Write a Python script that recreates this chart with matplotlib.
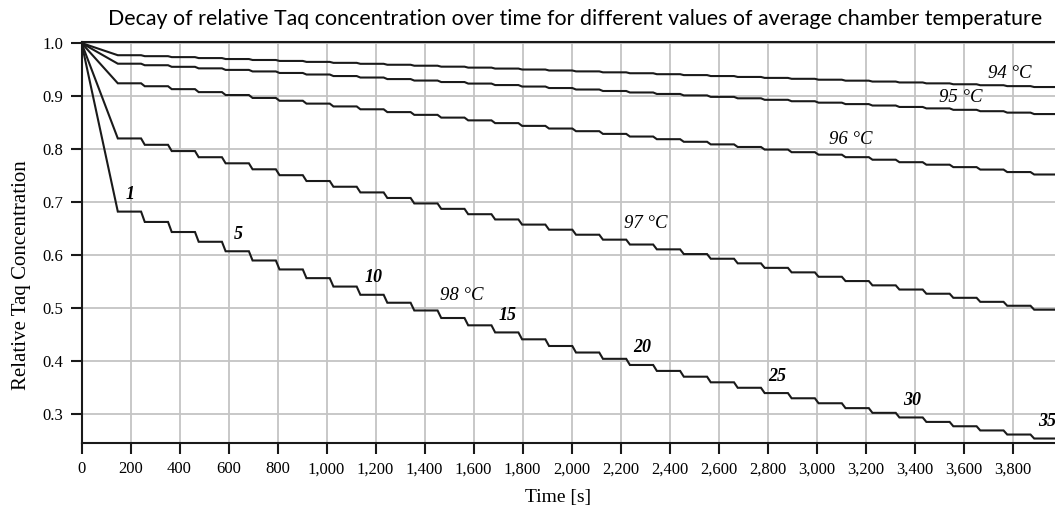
import matplotlib
matplotlib.use("Agg")
import matplotlib.pyplot as plt
from matplotlib.ticker import MultipleLocator, StrMethodFormatter

# relative Taq concentration at the end of each cycle (plateau values), cycles 1..35
temps = ["94 °C", "95 °C", "96 °C", "97 °C", "98 °C"]
conc_94 = [0.9770, 0.9752, 0.9734, 0.9716, 0.9698, 0.9680, 0.9662, 0.9644, 0.9626, 0.9608,
           0.9590, 0.9572, 0.9554, 0.9536, 0.9518, 0.9500, 0.9482, 0.9465, 0.9447, 0.9430,
           0.9412, 0.9395, 0.9377, 0.9360, 0.9342, 0.9325, 0.9308, 0.9290, 0.9273, 0.9256,
           0.9239, 0.9222, 0.9204, 0.9187, 0.9170]
conc_95 = [0.9610, 0.9581, 0.9551, 0.9522, 0.9493, 0.9464, 0.9435, 0.9406, 0.9377, 0.9349,
           0.9320, 0.9292, 0.9264, 0.9235, 0.9207, 0.9179, 0.9151, 0.9123, 0.9095, 0.9067,
           0.9039, 0.9012, 0.8984, 0.8957, 0.8929, 0.8902, 0.8875, 0.8848, 0.8821, 0.8794,
           0.8767, 0.8740, 0.8714, 0.8687, 0.8660]
conc_96 = [0.9240, 0.9185, 0.9130, 0.9074, 0.9019, 0.8964, 0.8911, 0.8857, 0.8804, 0.8750,
           0.8697, 0.8645, 0.8593, 0.8541, 0.8489, 0.8437, 0.8387, 0.8337, 0.8286, 0.8236,
           0.8186, 0.8137, 0.8088, 0.8039, 0.7990, 0.7941, 0.7894, 0.7847, 0.7799, 0.7752,
           0.7705, 0.7659, 0.7613, 0.7566, 0.7520]
conc_97 = [0.8200, 0.8080, 0.7962, 0.7846, 0.7731, 0.7618, 0.7507, 0.7397, 0.7289, 0.7182,
           0.7077, 0.6974, 0.6872, 0.6771, 0.6672, 0.6575, 0.6479, 0.6384, 0.6291, 0.6199,
           0.6108, 0.6019, 0.5931, 0.5844, 0.5759, 0.5674, 0.5591, 0.5510, 0.5429, 0.5350,
           0.5271, 0.5194, 0.5118, 0.5044, 0.4970]
conc_98 = [0.6820, 0.6625, 0.6435, 0.6251, 0.6072, 0.5898, 0.5729, 0.5565, 0.5406, 0.5251,
           0.5101, 0.4955, 0.4813, 0.4675, 0.4541, 0.4411, 0.4285, 0.4162, 0.4043, 0.3927,
           0.3815, 0.3706, 0.3600, 0.3497, 0.3397, 0.3299, 0.3205, 0.3113, 0.3024, 0.2937,
           0.2853, 0.2771, 0.2692, 0.2615, 0.2540]
series = [conc_94, conc_95, conc_96, conc_97, conc_98]

# timing of the protocol [s]
init_time = 148     # initial denaturation
cycle_time = 110    # one PCR cycle
hold_time = 95      # flat part of each cycle

# cycle numbers written on the 98 °C curve
cycle_marks = [1, 5, 10, 15, 20, 25, 30, 35]
# where the temperature labels sit (cycle, shift in s, pixel offset above curve)
temp_label_cycle = [34, 32, 28, 20, 13]
temp_label_dx = [0, 20, 10, 55, 74]
temp_label_dy = [13, 12, 18, 21, 23]


def step_curve(vals):
    t = [0.0]
    c = [1.0]
    for k, v in enumerate(vals):
        s = init_time + k * cycle_time
        t += [s, s + hold_time]
        c += [v, v]
    return t, c


fig = plt.figure(figsize=(10.55, 5.08), dpi=100)
ax = fig.add_axes([0.0773, 0.1274, 0.9227, 0.7900])

for vals in series:
    t, c = step_curve(vals)
    ax.plot(t, c, color="#1a1a1a", lw=1.5, solid_joinstyle="miter")

serif = "Liberation Serif"

for lab, vals, k, dx, dy in zip(temps, series, temp_label_cycle, temp_label_dx, temp_label_dy):
    x = init_time + (k - 1) * cycle_time + 10 + dx
    ax.annotate(lab, (x, vals[k - 1]), xytext=(0, dy), textcoords="offset pixels",
                ha="center", va="center", fontsize=13.5, fontstyle="italic", family=serif)

for n in cycle_marks:
    x = init_time + (n - 1) * cycle_time + 52
    ax.annotate(str(n), (x, conc_98[n - 1]), xytext=(0, 17), textcoords="offset pixels",
                ha="center", va="center", fontsize=13, fontstyle="italic",
                fontweight="bold", family=serif)

ax.set_xlim(0, 3973)
ax.set_ylim(0.245, 1.002)
ax.xaxis.set_major_locator(MultipleLocator(200))
ax.yaxis.set_major_locator(MultipleLocator(0.1))
ax.xaxis.set_major_formatter(StrMethodFormatter("{x:,.0f}"))
ax.yaxis.set_major_formatter(StrMethodFormatter("{x:.1f}"))
ax.grid(True, color="#c4c4c4", lw=1.3)
ax.set_axisbelow(True)

for side in ["left", "bottom", "top"]:
    ax.spines[side].set_linewidth(1.5)
    ax.spines[side].set_color("#1a1a1a")
ax.spines["right"].set_visible(False)
ax.tick_params(direction="out", length=8, width=1.5, color="#1a1a1a", pad=5)
for lbl in ax.get_xticklabels():
    lbl.set_family(serif)
    lbl.set_fontsize(12)
for lbl in ax.get_yticklabels():
    lbl.set_family(serif)
    lbl.set_fontsize(12)

ax.set_xlabel("Time [s]", family=serif, fontsize=14, labelpad=7)
ax.xaxis.set_label_coords(0.489, -0.115)
ax.set_ylabel("Relative Taq Concentration", family=serif, fontsize=15)
ax.yaxis.set_label_coords(-0.052, 0.42)
fig.text(0.545, 0.962, "Decay of relative Taq concentration over time for different values of average chamber temperature",
         ha="center", va="center", family="Lato", fontsize=15.4)

fig.savefig("out.png", dpi=100)
